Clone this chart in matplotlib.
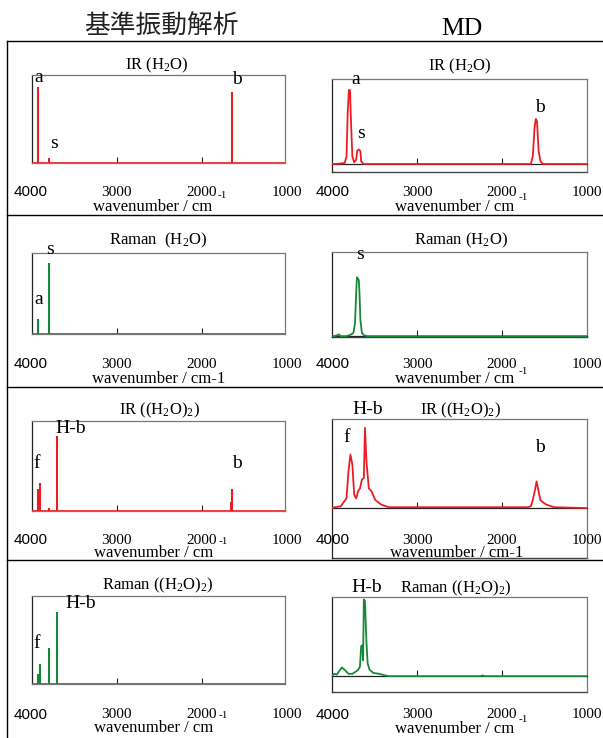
import matplotlib
matplotlib.use("Agg")
import matplotlib.pyplot as plt
from matplotlib.lines import Line2D
from matplotlib.transforms import blended_transform_factory

plt.rcParams['font.family'] = ['Liberation Serif', 'Noto Sans CJK JP', 'DejaVu Sans']
plt.rcParams['mathtext.fontset'] = 'custom'
plt.rcParams['mathtext.rm'] = 'Liberation Serif'
plt.rcParams['mathtext.it'] = 'Liberation Serif:italic'
plt.rcParams['mathtext.bf'] = 'Liberation Serif:bold'

W, H = 603, 738
RED = '#ec1c24'
GREEN = '#17873a'
FRAME = '#777777'

# --- normal mode analysis (stick spectra) ---
ir_h2o_wn = [3914, 3793, 1649]
ir_h2o_int = [0.86, 0.06, 0.81]
raman_h2o_wn = [3914, 3793]
raman_h2o_int = [0.185, 0.88]
ir_dimer_wn = [3922, 3895, 3793, 3698, 1662, 1649]
ir_dimer_int = [0.25, 0.31, 0.03, 0.83, 0.10, 0.24]
raman_dimer_wn = [3922, 3895, 3793, 3698]
raman_dimer_int = [0.11, 0.23, 0.41, 0.82]

# --- MD spectra ---
md_ir_h2o_wn = [4005, 3982, 3859, 3837, 3823, 3809, 3796, 3782, 3768, 3746, 3723, 3709,
                3691, 3673, 3664, 3632, 1658, 1635, 1613, 1599, 1585, 1567, 1544, 1512, 1000]
md_ir_h2o_int = [0, 0, 0.01, 0.09, 0.60, 0.87, 0.87, 0.44, 0.09, 0.02, 0.05, 0.16,
                 0.17, 0.15, 0.03, 0, 0, 0.09, 0.44, 0.53, 0.50, 0.16, 0.03, 0, 0]
md_raman_h2o_wn = [4005, 3982, 3950, 3927, 3905, 3837, 3782, 3755, 3737, 3723, 3714, 3700,
                   3691, 3682, 3673, 3655, 3632, 3587, 1000]
md_raman_h2o_int = [0, 0, 0.01, 0.02, 0.0, 0.0, 0.02, 0.04, 0.15, 0.51, 0.70, 0.68,
                    0.66, 0.47, 0.19, 0.04, 0.01, 0, 0]
md_ir_dimer_wn = [4005, 3973, 3905, 3837, 3814, 3791, 3768, 3746, 3723, 3700, 3678, 3655,
                  3632, 3619, 3601, 3573, 3542, 3496, 3428, 3337, 1700, 1658, 1635, 1612,
                  1590, 1567, 1545, 1522, 1476, 1385, 1000]
md_ir_dimer_int = [0, 0.01, 0.02, 0.11, 0.41, 0.60, 0.49, 0.15, 0.11, 0.19, 0.22, 0.32,
                   0.34, 0.90, 0.52, 0.22, 0.19, 0.09, 0.04, 0.01, 0.01, 0.02, 0.09, 0.19,
                   0.30, 0.19, 0.09, 0.07, 0.04, 0.01, 0]
md_raman_dimer_wn = [4005, 3982, 3950, 3927, 3891, 3859, 3814, 3768, 3723, 3700, 3678, 3664,
                     3650, 3641, 3632, 3619, 3601, 3587, 3564, 3519, 3451, 3383, 3337, 2250,
                     2230, 2210, 1000]
md_raman_dimer_int = [0.01, 0.03, 0.02, 0.06, 0.11, 0.08, 0.03, 0.03, 0.06, 0.08, 0.12, 0.38,
                      0.39, 0.20, 0.97, 0.95, 0.42, 0.16, 0.08, 0.04, 0.03, 0.01, 0, 0,
                      0.01, 0, 0]

tick_values = [4000, 3000, 2000, 1000]

fig = plt.figure(figsize=(W / 100, H / 100), dpi=100)


def box(x0, y0, x1, y1):
    return [x0 / W, 1 - y1 / H, (x1 - x0) / W, (y1 - y0) / H]


def ftext(x, y, s, size=12, **kw):
    fig.text(x / W, 1 - y / H, s, ha='center', va='center', fontsize=size, **kw)


def style_frame(ax):
    for side in ['top', 'right', 'bottom']:
        ax.spines[side].set_color(FRAME)
        ax.spines[side].set_linewidth(0.9)
    ax.spines['left'].set_color('#222222')
    ax.spines['left'].set_linewidth(0.9)
    ax.set_yticks([])
    ax.set_xticks([3000, 2000])
    ax.tick_params(axis='x', direction='in', length=4, width=0.8,
                   color='#222222', labelbottom=False)


def tick_labels(ax, y):
    tr = blended_transform_factory(ax.transData, fig.transFigure)
    for v in tick_values:
        fam = 'Liberation Sans' if v == 4000 else 'Liberation Serif'
        ax.text(v, 1 - y / H, str(v), transform=tr, ha='center', va='center',
                fontsize=11, family=fam, clip_on=False)


# left column: stick spectra
left = [
    (75, 163, ir_h2o_wn, ir_h2o_int, RED, 192),
    (253, 334, raman_h2o_wn, raman_h2o_int, GREEN, 364),
    (421, 511, ir_dimer_wn, ir_dimer_int, RED, 540),
    (596, 684, raman_dimer_wn, raman_dimer_int, GREEN, 715),
]
for y0, y1, wn, inten, col, ty in left:
    ax = fig.add_axes(box(32.3, y0, 285.4, y1))
    ax.vlines(wn, 0, inten, color=col, lw=1.5, zorder=3)
    ax.axhline(0, color=col, lw=1.2, zorder=3)
    ax.set_xlim(3986, 1023)
    ax.set_ylim(0, 1)
    style_frame(ax)
    tick_labels(ax, ty)

# right column: MD spectra
right = [
    (79, 172, -0.094, md_ir_h2o_wn, md_ir_h2o_int, RED, 192),
    (252, 337, -0.01, md_raman_h2o_wn, md_raman_h2o_int, GREEN, 364),
    (419, 558, -0.56, md_ir_dimer_wn, md_ir_dimer_int, RED, 540),
    (597, 692, -0.20, md_raman_dimer_wn, md_raman_dimer_int, GREEN, 715),
]
for y0, y1, ymin, wn, inten, col, ty in right:
    ax = fig.add_axes(box(332.3, y0, 586.5, y1))
    ax.plot(wn, inten, color=col, lw=1.3, zorder=3)
    ax.set_xlim(4005, 1000)
    ax.set_ylim(ymin, 1)
    style_frame(ax)
    ax.spines['bottom'].set_position(('data', 0))
    ax.spines['bottom'].set_color('#222222')
    ax.plot([0, 1], [0, 0], transform=ax.transAxes, color='#444444',
            lw=1.0, clip_on=False)
    tick_labels(ax, ty)

# headers
ftext(161, 27, '基準振動解析', size=18.5, family=['Noto Sans CJK JP'], color='#222222')
ftext(462, 29, 'MD', size=18.5)

# panel titles
ftext(157, 65, 'IR (H$_2$O)')
ftext(460, 66, 'IR (H$_2$O)')
ftext(158, 240, 'Raman  (H$_2$O)')
ftext(461, 240, 'Raman (H$_2$O)')
ftext(159, 410, 'IR ((H$_2$O)$_2$)')
ftext(460, 410, 'IR ((H$_2$O)$_2$)')
ftext(158, 585, 'Raman ((H$_2$O)$_2$)')
ftext(456, 588, 'Raman ((H$_2$O)$_2$)')

# peak labels
peak_labels = [
    (38.5, 78, 'a'), (54, 143, 's'), (237, 80, 'b'),
    (356, 80, 'a'), (361.5, 134, 's'), (540, 107, 'b'),
    (50, 249, 's'), (38.5, 300, 'a'),
    (360, 255, 's'),
    (37, 463, 'f'), (71, 428, 'H-b'), (237, 463, 'b'),
    (368, 410, 'H-b'), (347, 438, 'f'), (540, 448, 'b'),
    (36.5, 643, 'f'), (81, 603, 'H-b'),
    (367, 588, 'H-b'),
]
for x, y, s in peak_labels:
    ftext(x, y, s, size=14)

# axis labels
ftext(153, 207, 'wavenumber / cm')
ftext(222, 196, '-1', size=8)
ftext(455, 207, 'wavenumber / cm')
ftext(523, 198, '-1', size=8)
ftext(159, 379, 'wavenumber / cm-1')
ftext(455, 379, 'wavenumber / cm')
ftext(523, 371, '-1', size=8)
ftext(154, 553, 'wavenumber / cm')
ftext(223, 541, '-1', size=8)
ftext(457, 553, 'wavenumber / cm-1')
ftext(154, 728, 'wavenumber / cm')
ftext(223, 716, '-1', size=8)
ftext(455, 729, 'wavenumber / cm')
ftext(523, 720, '-1', size=8)

# table grid
grid_kw = dict(color='black', lw=1.0, transform=fig.transFigure)
for y in [41, 215, 387, 560]:
    fig.add_artist(Line2D([7 / W, 1], [1 - y / H, 1 - y / H], **grid_kw))
fig.add_artist(Line2D([7 / W, 7 / W], [1 - 41 / H, 0], **grid_kw))

fig.savefig('out.png', dpi=100)
